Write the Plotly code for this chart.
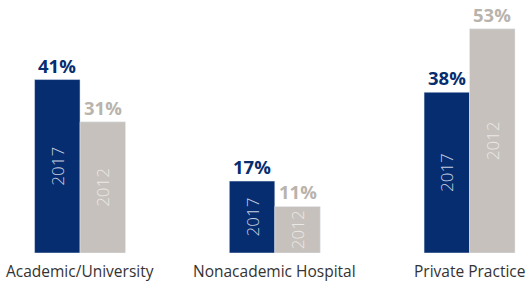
import plotly.graph_objects as go

categories = ["Academic/University", "Nonacademic Hospital", "Private Practice"]
values_2017 = [41, 17, 38]
values_2012 = [31, 11, 53]
years = ["2017", "2012"]

blue = "#062d70"
gray = "#c6c1bc"

fig = go.Figure()
fig.add_trace(go.Bar(
    x=categories, y=values_2017, name=years[0], marker_color=blue,
    text=[years[0]] * 3, textposition="inside", insidetextanchor="middle",
    textangle=-90, textfont=dict(family="Open Sans", size=17, color="#c9d0e0", weight=300),
    hoverinfo="skip",
))
fig.add_trace(go.Bar(
    x=categories, y=values_2012, name=years[1], marker_color=gray,
    text=[years[1]] * 3, textposition="inside", insidetextanchor="middle",
    textangle=-90, textfont=dict(family="Open Sans", size=17, color="#ebe8e5", weight=300),
    hoverinfo="skip",
))

bw = 45.5
for i, (a, b) in enumerate(zip(values_2017, values_2012)):
    fig.add_annotation(x=i, y=a, text=f"<b>{a}%</b>", showarrow=False, yanchor="bottom",
                       xshift=-bw / 2, yshift=0,
                       font=dict(family="Open Sans", size=18.5, color=blue))
    fig.add_annotation(x=i, y=b, text=f"<b>{b}%</b>", showarrow=False, yanchor="bottom",
                       xshift=bw / 2, yshift=0,
                       font=dict(family="Open Sans", size=18.5, color="#b9b3ad"))

for i, c in enumerate(categories):
    fig.add_annotation(x=i, y=0, text=c, showarrow=False, yanchor="middle", yshift=-18,
                       borderpad=0,
                       font=dict(family="Open Sans", size=15.5, color="#333333"))

fig.update_layout(
    width=527, height=282,
    margin=dict(l=0, r=0, t=0, b=29, autoexpand=False),
    paper_bgcolor="white", plot_bgcolor="white",
    barmode="group", bargap=0.533, bargroupgap=0,
    showlegend=False,
    xaxis=dict(range=[-0.411, 2.295], showline=False, ticks="", showgrid=False,
               showticklabels=False, automargin=False, fixedrange=True),
    yaxis=dict(range=[0, 59.8], visible=False, showgrid=False, automargin=False,
               fixedrange=True),
)

fig.write_html("out.html", config={"displayModeBar": False},
               post_script="document.body.style.margin='0';document.body.style.overflow='hidden';")
